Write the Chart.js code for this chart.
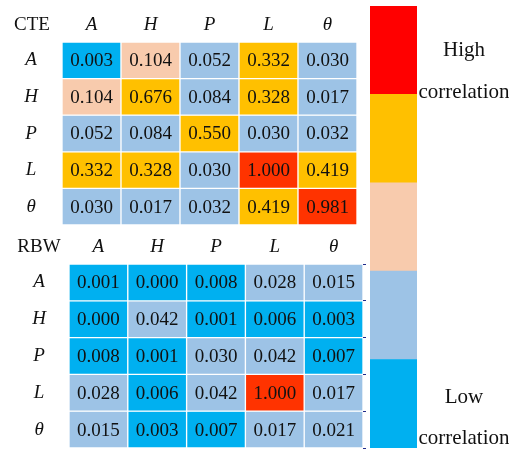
<!DOCTYPE html>
<html>
<head>
<meta charset="utf-8">
<script src="https://cdn.jsdelivr.net/npm/chart.js@4.4.1/dist/chart.umd.min.js"></script>
<style>
  html, body { margin: 0; padding: 0; background: #ffffff; }
  #wrap { position: relative; width: 509px; height: 453px; overflow: hidden; background: #ffffff; }
  canvas { position: absolute; }
</style>
</head>
<body>
<div id="wrap">
  <canvas id="cte" width="362" height="230" style="left:0px;top:0px;"></canvas>
  <canvas id="rbw" width="357" height="229" style="left:9px;top:224px;"></canvas>
  <canvas id="scale" width="139" height="453" style="left:370px;top:0px;"></canvas>
</div>
<script>
// Variables shown on both axes of each correlation table
const varLabels = ['A', 'H', 'P', 'L', 'θ'];

// CTE correlation table, one array per row
const cteA     = [0.003, 0.104, 0.052, 0.332, 0.030];
const cteH     = [0.104, 0.676, 0.084, 0.328, 0.017];
const cteP     = [0.052, 0.084, 0.550, 0.030, 0.032];
const cteL     = [0.332, 0.328, 0.030, 1.000, 0.419];
const cteTheta = [0.030, 0.017, 0.032, 0.419, 0.981];

// RBW correlation table, one array per row
const rbwA     = [0.001, 0.000, 0.008, 0.028, 0.015];
const rbwH     = [0.000, 0.042, 0.001, 0.006, 0.003];
const rbwP     = [0.008, 0.001, 0.030, 0.042, 0.007];
const rbwL     = [0.028, 0.006, 0.042, 1.000, 0.017];
const rbwTheta = [0.015, 0.003, 0.007, 0.017, 0.021];

// Colour classes: value below break[i] -> classColors[i]
const classBreaks = [0.01, 0.1, 0.3, 0.9];
const classColors = ['#00B0F0', '#9DC3E6', '#F8CBAD', '#FFC000', '#FF3300'];

// Colour key, bottom band first
const keyBands  = [1, 1, 1, 1, 1];
const keyColors = ['#00B0F0', '#9DC3E6', '#F8CBAD', '#FFC000', '#FF0000'];

const SERIF = "'Liberation Serif', 'Times New Roman', serif";
const INK = '#111111';

function classColor(v) {
  for (let i = 0; i < classBreaks.length; i++) {
    if (v < classBreaks[i]) return classColors[i];
  }
  return classColors[classColors.length - 1];
}

// Writes the value inside each cell and the table name in the corner
const cellText = {
  id: 'cellText',
  afterDatasetsDraw(chart, args, opts) {
    const ctx = chart.ctx;
    ctx.save();
    ctx.fillStyle = INK;
    ctx.font = '19px ' + SERIF;
    ctx.textAlign = 'center';
    ctx.textBaseline = 'middle';
    opts.rows.forEach((row, i) => {
      const meta = chart.getDatasetMeta(i);
      meta.data.forEach((el, j) => {
        const cy = (el.y + el.base) / 2 + 1;
        ctx.fillText(row[j].toFixed(3), el.x, cy);
      });
    });
    const a = chart.chartArea;
    ctx.fillText(opts.name, a.left - opts.nameInset, a.top - 17);
    ctx.restore();
  }
};

// Fixed axis sizes, without the extra room Chart.js reserves for edge labels
function fixSize(prop, size) {
  return (s) => {
    s[prop] = size;
    s.paddingTop = 0;
    s.paddingBottom = 0;
    s.paddingLeft = 0;
    s.paddingRight = 0;
  };
}

function buildTable(canvasId, name, rows, opt) {
  const datasets = rows.map((row, i) => ({
    label: varLabels[i],
    data: row.map(() => 1),
    backgroundColor: row.map(classColor),
    borderColor: '#ffffff',
    borderWidth: 1,
    borderSkipped: false,
    barPercentage: 1,
    categoryPercentage: 1
  }));
  const scales = {
    x: {
      type: 'category',
      position: 'top',
      stacked: true,
      offset: true,
      grid: { display: false, drawTicks: false },
      border: { display: false },
      ticks: { padding: 6, color: INK, font: { family: SERIF, size: 19, style: 'italic' } },
      afterFit: fixSize('height', opt.headH)
    },
    y: {
      type: 'linear',
      display: false,
      stacked: true,
      min: 0,
      max: 5,
      reverse: true
    },
    rowAxis: {
      type: 'category',
      axis: 'y',
      position: 'left',
      labels: varLabels,
      offset: true,
      grid: { display: false, drawTicks: false },
      border: { display: false },
      ticks: { crossAlign: 'center', padding: opt.labelPad, color: INK, font: { family: SERIF, size: 19, style: 'italic' } },
      afterFit: fixSize('width', opt.labelW)
    }
  };
  if (opt.edgeTicks) {
    scales.edge = {
      type: 'linear',
      axis: 'y',
      position: 'right',
      min: 0,
      max: 5,
      ticks: { display: false, stepSize: 1 },
      grid: { drawOnChartArea: false, drawTicks: true, tickLength: 3, color: '#1F2A8A' },
      border: { display: false },
      afterFit: fixSize('width', 3)
    };
  }
  return new Chart(document.getElementById(canvasId), {
    type: 'bar',
    data: { labels: varLabels, datasets },
    options: {
      responsive: false,
      animation: false,
      devicePixelRatio: 1,
      layout: { padding: opt.padding },
      plugins: {
        legend: { display: false },
        tooltip: { enabled: false },
        cellText: { rows, name, nameInset: opt.nameInset }
      },
      scales
    },
    plugins: [cellText]
  });
}

buildTable('cte', 'CTE', [cteA, cteH, cteP, cteL, cteTheta],
  { headH: 42, labelW: 62, labelPad: 24, nameInset: 30,
    padding: { top: 0, left: 0, right: 5, bottom: 5 } });

buildTable('rbw', 'RBW', [rbwA, rbwH, rbwP, rbwL, rbwTheta],
  { headH: 40, labelW: 60, labelPad: 23, nameInset: 30, edgeTicks: true,
    padding: { top: 0, left: 0, right: 0, bottom: 5 } });

// Colour key with its two captions
const keyText = {
  id: 'keyText',
  afterDatasetsDraw(chart) {
    const ctx = chart.ctx;
    const a = chart.chartArea;
    const cx = a.right + 47;
    ctx.save();
    ctx.fillStyle = INK;
    ctx.font = '21px ' + SERIF;
    ctx.textAlign = 'center';
    ctx.textBaseline = 'middle';
    ctx.fillText('High', cx, a.top + 44);
    ctx.fillText('correlation', cx, a.top + 86);
    ctx.fillText('Low', cx, a.bottom - 51);
    ctx.fillText('correlation', cx, a.bottom - 10);
    ctx.restore();
  }
};

new Chart(document.getElementById('scale'), {
  type: 'bar',
  data: {
    labels: [''],
    datasets: keyBands.map((v, i) => ({
      data: [v],
      backgroundColor: keyColors[i],
      borderWidth: 0,
      barPercentage: 1,
      categoryPercentage: 1
    }))
  },
  options: {
    responsive: false,
    animation: false,
    devicePixelRatio: 1,
    layout: { padding: { top: 6, left: 0, right: 92, bottom: 5 } },
    plugins: { legend: { display: false }, tooltip: { enabled: false } },
    scales: {
      x: { display: false, stacked: true, offset: true },
      y: { display: false, stacked: true, min: 0, max: 5 }
    }
  },
  plugins: [keyText]
});
</script>
</body>
</html>
